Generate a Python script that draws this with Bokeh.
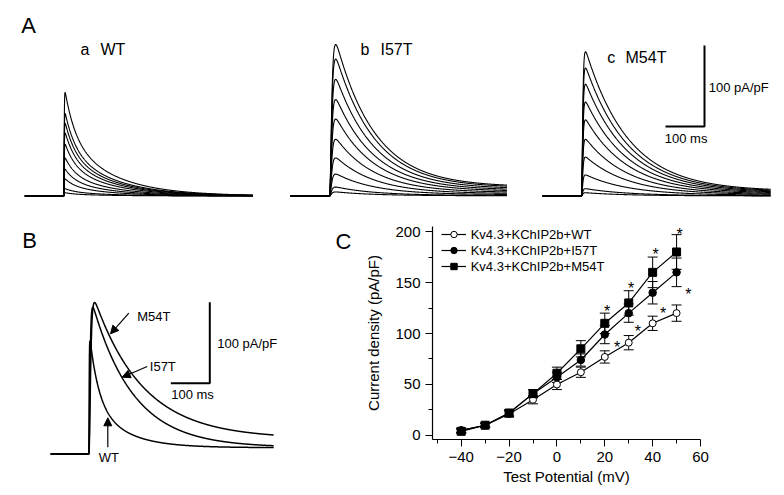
import numpy as np
from bokeh.plotting import figure
from bokeh.models import (Range1d, Label, LabelSet, ColumnDataSource, Whisker, TeeHead,
                          Arrow, NormalHead, FixedTicker)
from bokeh.layouts import column, row
from bokeh.embed import file_html
from bokeh.resources import INLINE
from bokeh.core.properties import value

FONT = "Liberation Sans"

# ---------------- Panel C : I-V relationship ----------------
potential = [-40, -30, -20, -10, 0, 10, 20, 30, 40, 50]
wt_mean = [5, 10, 21, 35, 50, 62, 77, 91, 110, 120]
wt_sem = [2, 2, 3, 4, 5, 5, 6, 7, 7, 8]
i57t_mean = [5, 10, 22, 41, 57, 74, 99, 120, 140, 160]
i57t_sem = [2, 2, 3, 4, 5, 6, 9, 9, 11, 14]
m54t_mean = [4, 10, 22, 41, 61, 85, 110, 130, 160, 180]
m54t_sem = [2, 2, 3, 4, 6, 8, 10, 12, 15, 17]
series_names = ["Kv4.3+KChIP2b+WT", "Kv4.3+KChIP2b+I57T", "Kv4.3+KChIP2b+M54T"]
x_ticks = [-40, -20, 0, 20, 40, 60]
y_ticks = [0, 50, 100, 150, 200]
# significance asterisks (centre of the star)
star_x = [21, 31, 41.2, 51.3, 54.9, 25.2, 33.8, 44.4]
star_y = [125.6, 147.5, 181, 201, 142, 89.7, 105.4, 123]

# ---------------- Panel A : current families (peak pA/pF) ----------------
wt_peaks = [128, 102, 90, 78, 64, 47, 33, 21, 9, 4]
i57t_peaks = [187, 169, 144, 119, 95, 70, 47, 27, 11, 5]
m54t_peaks = [178, 158, 138, 116, 94, 70, 48, 26, 9, 4]
# kinetics (ms): rise, fast weight, tau fast, tau slow, sustained
kin_A = {
    "WT":   dict(tr=0.6, w=0.45, tf=26, ts=115, s=0.0, dur=485),
    "I57T": dict(tr=3.5, w=0.0, tf=1, ts=100, s=0.05, dur=455),
    "M54T": dict(tr=2.0, w=0.0, tf=1, ts=110, s=0.03, dur=485),
}
# ---------------- Panel B : superimposed traces ----------------
b_names = ["M54T", "I57T", "WT"]
b_peaks = [187, 181, 140]
kin_B = {
    "M54T": dict(tr=3.0, w=0.0, tf=1, ts=125, s=0.09, dur=474),
    "I57T": dict(tr=2.0, w=0.0, tf=1, ts=105, s=0.04, dur=474),
    "WT":   dict(tr=0.6, w=0.55, tf=22, ts=80, s=0.05, dur=474),
}

MS = 100 / 39.0   # ms per pixel (scale bar)
PA = 100 / 81.0   # pA/pF per pixel (scale bar)


def trace(amp, tr, w, tf, ts, s, dur, t0, pre=100):
    t = np.linspace(0, dur, 900)
    rise = (1 - np.exp(-t / tr)) ** 3
    dec = w * np.exp(-t / tf) + (1 - w - s) * np.exp(-t / ts) + s
    g = rise * dec
    g = g / g.max()
    x = np.concatenate([[t0 - pre, t0], t0 + t])
    y = np.concatenate([[0, 0], amp * g])
    return x, y


def no_align(p):
    if "frame_align" in p.properties():
        p.frame_align = False


def blank(width, height, xr, yr):
    p = figure(width=width, height=height, x_range=Range1d(*xr), y_range=Range1d(*yr),
               output_backend="svg", toolbar_location=None, min_border=0)
    p.axis.visible = False
    p.grid.visible = False
    p.outline_line_color = None
    no_align(p)
    return p


def lab(p, x, y, text, size, align="left", angle=0):
    p.add_layout(Label(x=x, y=y, text=text, text_font=FONT, text_font_size=size,
                       text_align=align, text_baseline="middle", text_color="black", angle=angle))


# ================= Panel A figure =================
A_BASE = 195.5
axA = lambda px: px * MS
ayA = lambda py: (A_BASE - py) * PA
pA = blank(784, 208, (0, 784 * MS), (ayA(208), ayA(0)))

fam = [("WT", wt_peaks, 63.3), ("I57T", i57t_peaks, 329), ("M54T", m54t_peaks, 581)]
for name, peaks, step_px in fam:
    k = kin_A[name]
    xs, ys = [], []
    for a in peaks:
        x, y = trace(a, k["tr"], k["w"], k["tf"], k["ts"], k["s"], k["dur"], axA(step_px))
        xs.append(x)
        ys.append(y)
    pA.multi_line(xs, ys, line_color="black", line_width=1.1)

sbx, sby = axA(704), ayA(126)
pA.line([sbx - 100, sbx, sbx], [sby, sby, sby + 100], line_color="black", line_width=2)
lab(pA, axA(708.3), ayA(86.7), "100 pA/pF", "13px")
lab(pA, axA(664.3), ayA(137.5), "100 ms", "13px")
lab(pA, axA(20.7), ayA(25.3), "A", "22px")
for letter, nm, lx, nx, cy in [("a", "WT", 80, 100, 49.3), ("b", "I57T", 360, 380, 48.5),
                               ("c", "M54T", 606.7, 625, 57)]:
    lab(pA, axA(lx), ayA(cy), letter, "16px")
    lab(pA, axA(nx), ayA(cy), nm, "16px")

# ================= Panel B figure =================
B_BASE = 453.5
axB = lambda px: px * MS
ayB = lambda py: (B_BASE - py) * PA
pB = blank(355, 287, (0, 355 * MS), (ayB(495), ayB(208)))
bxs, bys = [], []
for name, amp in zip(b_names, b_peaks):
    k = kin_B[name]
    x, y = trace(amp, k["tr"], k["w"], k["tf"], k["ts"], k["s"], k["dur"], axB(88.3), pre=98)
    bxs.append(x)
    bys.append(y)
pB.multi_line(bxs, bys, line_color="black", line_width=1.5)

sbx, sby = axB(209.3), ayB(382.7)
pB.line([sbx - 100, sbx, sbx], [sby, sby, sby + 100], line_color="black", line_width=2)
lab(pB, axB(216.7), ayB(342.5), "100 pA/pF", "13px")
lab(pB, axB(170.7), ayB(393.8), "100 ms", "13px")
lab(pB, axB(21.7), ayB(239.7), "B", "22px")
lab(pB, axB(335), ayB(240.5), "C", "22px")
lab(pB, axB(136.7), ayB(316), "M54T", "13px")
lab(pB, axB(149.3), ayB(365.7), "I57T", "13px")
lab(pB, axB(108.3), ayB(456.5), "WT", "13px", align="center")
for (x0, y0, x1, y1) in [(128.3, 312.7, 110, 333.3), (146.7, 366, 121.7, 376.7),
                         (107.3, 446.7, 107.3, 417.3)]:
    pB.add_layout(Arrow(x_start=axB(x0), y_start=ayB(y0), x_end=axB(x1), y_end=ayB(y1),
                        line_color="black", line_width=1.2,
                        end=NormalHead(size=8, fill_color="black", line_color="black")))

# ================= Panel C figure =================
pC = figure(width=429, height=287, x_range=Range1d(-52, 60), y_range=Range1d(-4, 205),
            output_backend="svg", toolbar_location=None,
            min_border_left=77, min_border_right=84, min_border_top=18, min_border_bottom=56)
no_align(pC)
pC.grid.visible = False
pC.outline_line_color = None
pC.xaxis.ticker = FixedTicker(ticks=x_ticks, minor_ticks=[-50, -30, -10, 10, 30, 50])
pC.yaxis.ticker = FixedTicker(ticks=y_ticks, minor_ticks=[25, 75, 125, 175])
pC.xaxis.axis_label = "Test Potential (mV)"
pC.yaxis.axis_label = "Current density (pA/pF)"
pC.xaxis.axis_label_standoff = 3
pC.yaxis.axis_label_standoff = 10
for ax in (pC.xaxis[0], pC.yaxis[0]):
    ax.major_tick_out = 7
    ax.major_tick_in = 0
    ax.minor_tick_out = 4
    ax.minor_tick_in = 0
    ax.axis_line_color = "black"
    ax.axis_line_width = 1.2
    ax.major_tick_line_color = "black"
    ax.minor_tick_line_color = "black"
    ax.major_label_text_font = FONT
    ax.major_label_text_font_size = "15px"
    ax.major_label_text_color = "black"
    ax.major_label_standoff = 5
    ax.axis_label_text_font = FONT
    ax.axis_label_text_font_size = "15px"
    ax.axis_label_text_font_style = "normal"
    ax.axis_label_text_color = "black"

styles = [dict(marker="circle", size=7, fill_color="white"),
          dict(marker="circle", size=7.5, fill_color="black"),
          dict(marker="square", size=8, fill_color="black")]
for name, mean, sem, st in zip(series_names, [wt_mean, i57t_mean, m54t_mean],
                               [wt_sem, i57t_sem, m54t_sem], styles):
    src = ColumnDataSource(dict(x=potential, y=mean,
                                upper=[m + e for m, e in zip(mean, sem)],
                                lower=[m - e for m, e in zip(mean, sem)]))
    pC.line("x", "y", source=src, line_color="black", line_width=1.2, legend_label=name)
    pC.add_layout(Whisker(source=src, base="x", upper="upper", lower="lower",
                          line_color="black", line_width=1,
                          upper_head=TeeHead(size=10, line_color="black", line_width=1),
                          lower_head=TeeHead(size=10, line_color="black", line_width=1)))
    pC.scatter("x", "y", source=src, marker=st["marker"], size=st["size"],
               fill_color=st["fill_color"], line_color="black", line_width=1, legend_label=name)

star_src = ColumnDataSource(dict(x=star_x, y=[v - 9 for v in star_y], t=["*"] * len(star_x)))
pC.add_layout(LabelSet(x="x", y="y", text="t", source=star_src, text_font=value(FONT),
                       text_font_size=value("16px"), text_align="center",
                       text_baseline="alphabetic", text_color="black"))

lg = pC.legend[0]
lg.location = (8.7, 165)
lg.padding = 0
lg.spacing = 0
lg.margin = 0
lg.glyph_width = 25
lg.glyph_height = 16
lg.label_height = 16
lg.label_standoff = 5
lg.border_line_color = None
lg.background_fill_alpha = 0
lg.label_text_font = FONT
lg.label_text_font_size = "13px"
lg.label_text_color = "black"

layout = column(pA, row(pB, pC))
open("out.html", "w").write(file_html(layout, INLINE))
